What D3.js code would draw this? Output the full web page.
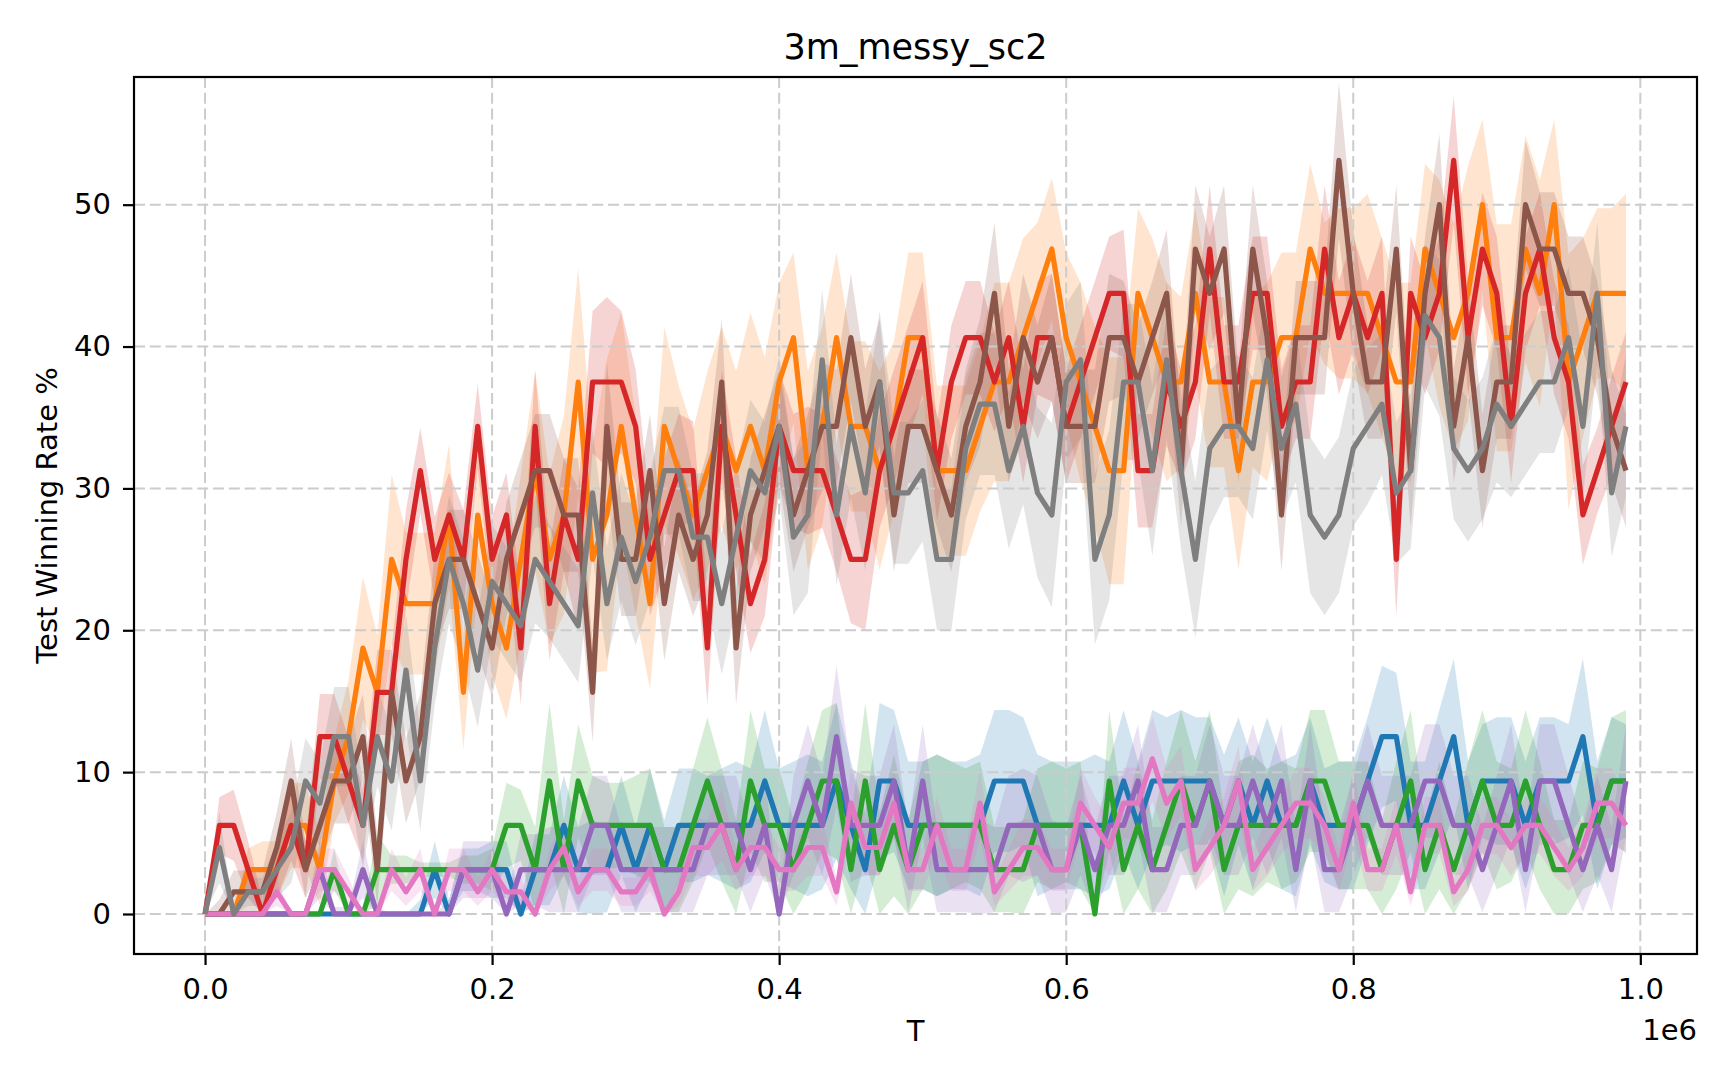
<!DOCTYPE html>
<html>
<head>
<meta charset="utf-8">
<script src="https://cdn.jsdelivr.net/npm/d3@7"></script>
<style>
body { margin: 0; background: #fff; }
text { font-family: "DejaVu Sans", sans-serif; }
</style>
</head>
<body>
<svg id="chart" width="1728" height="1080"></svg>
<script>
// environment steps (T)
var steps = [0,10000,20000,30000,40000,50000,60000,70000,80000,90000,
    100000,110000,120000,130000,140000,150000,160000,170000,180000,190000,
    200000,210000,220000,230000,240000,250000,260000,270000,280000,290000,
    300000,310000,320000,330000,340000,350000,360000,370000,380000,390000,
    400000,410000,420000,430000,440000,450000,460000,470000,480000,490000,
    500000,510000,520000,530000,540000,550000,560000,570000,580000,590000,
    600000,610000,620000,630000,640000,650000,660000,670000,680000,690000,
    700000,710000,720000,730000,740000,750000,760000,770000,780000,790000,
    800000,810000,820000,830000,840000,850000,860000,870000,880000,890000,
    900000,910000,920000,930000,940000,950000,960000,970000,980000,990000];

// mean test win rate per run
var blue = [0,0,0,0,0,0,0,0,0,0, 0,0,0,0,0,0,3.125,0,3.125,3.125,
    3.125,3.125,0,3.125,3.125,6.25,3.125,3.125,3.125,6.25, 3.125,6.25,3.125,6.25,6.25,6.25,6.25,6.25,6.25,9.375,
    6.25,6.25,6.25,6.25,9.375,6.25,3.125,9.375,9.375,6.25, 6.25,6.25,6.25,6.25,6.25,9.375,9.375,9.375,6.25,6.25,
    6.25,6.25,6.25,6.25,9.375,6.25,9.375,9.375,9.375,9.375, 9.375,6.25,9.375,6.25,9.375,6.25,6.25,9.375,6.25,6.25,
    6.25,9.375,12.5,12.5,6.25,6.25,9.375,12.5,6.25,9.375, 9.375,9.375,6.25,9.375,9.375,9.375,12.5,6.25,9.375,9.375];
var orange = [0,0,0,3.125,3.125,3.125,6.25,6.25,3.125,9.375, 12.5,18.75,15.625,25,21.875,21.875,21.875,28.125,15.625,28.125,
    21.875,18.75,25,31.25,25,28.125,37.5,25,28.125,34.375, 28.125,21.875,34.375,31.25,28.125,31.25,34.375,31.25,34.375,31.25,
    37.5,40.625,31.25,34.375,40.625,34.375,34.375,31.25,34.375,40.625, 40.625,31.25,31.25,31.25,34.375,37.5,37.5,40.625,43.75,46.875,
    40.625,37.5,34.375,31.25,31.25,43.75,40.625,37.5,37.5,43.75, 37.5,37.5,31.25,37.5,37.5,40.625,40.625,46.875,43.75,43.75,
    43.75,43.75,40.625,37.5,37.5,46.875,43.75,40.625,43.75,50, 40.625,40.625,46.875,43.75,50,37.5,40.625,43.75,43.75,43.75];
var green = [0,0,0,0,0,0,0,0,0,3.125, 0,0,3.125,3.125,3.125,3.125,3.125,3.125,3.125,3.125,
    3.125,6.25,6.25,3.125,9.375,3.125,9.375,6.25,6.25,6.25, 6.25,6.25,3.125,3.125,6.25,9.375,6.25,3.125,9.375,6.25,
    6.25,3.125,6.25,9.375,9.375,3.125,9.375,3.125,6.25,3.125, 6.25,6.25,6.25,6.25,6.25,3.125,3.125,3.125,6.25,6.25,
    6.25,6.25,0,9.375,3.125,6.25,3.125,6.25,9.375,6.25, 9.375,3.125,6.25,6.25,6.25,6.25,6.25,9.375,9.375,6.25,
    6.25,6.25,3.125,6.25,9.375,3.125,6.25,3.125,6.25,9.375, 6.25,6.25,9.375,6.25,3.125,3.125,6.25,6.25,9.375,9.375];
var red = [0,6.25,6.25,3.125,0,3.125,6.25,3.125,12.5,12.5, 9.375,6.25,15.625,15.625,25,31.25,25,28.125,25,34.375,
    25,28.125,18.75,34.375,21.875,28.125,25,37.5,37.5,37.5, 34.375,25,28.125,31.25,31.25,18.75,34.375,28.125,21.875,25,
    34.375,31.25,31.25,31.25,28.125,25,25,31.25,34.375,37.5, 40.625,31.25,37.5,40.625,40.625,37.5,40.625,34.375,40.625,40.625,
    34.375,37.5,40.625,43.75,43.75,31.25,31.25,37.5,34.375,37.5, 46.875,37.5,37.5,43.75,43.75,34.375,37.5,37.5,46.875,40.625,
    43.75,40.625,43.75,25,43.75,40.625,43.75,53.125,40.625,46.875, 43.75,34.375,43.75,46.875,40.625,37.5,28.125,31.25,34.375,37.5];
var purple = [0,0,0,0,0,0,0,0,3.125,0, 0,3.125,0,0,0,0,0,0,3.125,3.125,
    3.125,0,3.125,3.125,3.125,3.125,3.125,6.25,6.25,3.125, 3.125,3.125,3.125,3.125,3.125,6.25,6.25,6.25,3.125,6.25,
    0,6.25,9.375,6.25,12.5,6.25,6.25,6.25,9.375,3.125, 9.375,3.125,3.125,3.125,3.125,3.125,6.25,6.25,6.25,3.125,
    3.125,6.25,3.125,6.25,6.25,9.375,3.125,3.125,6.25,6.25, 9.375,6.25,6.25,9.375,6.25,9.375,3.125,9.375,3.125,3.125,
    6.25,9.375,6.25,6.25,6.25,9.375,9.375,6.25,6.25,3.125, 6.25,9.375,3.125,9.375,9.375,6.25,3.125,6.25,3.125,9.375];
var brown = [0,0,1.5625,1.5625,1.5625,4.6875,9.375,3.125,6.25,9.375, 9.375,12.5,3.125,15.625,9.375,12.5,21.875,25,25,21.875,
    18.75,25,28.125,31.25,31.25,28.125,28.125,15.625,34.375,25, 25,31.25,21.875,28.125,25,28.125,37.5,18.75,28.125,31.25,
    34.375,28.125,31.25,34.375,34.375,40.625,34.375,37.5,28.125,34.375, 34.375,31.25,28.125,34.375,37.5,43.75,34.375,40.625,37.5,40.625,
    34.375,34.375,34.375,40.625,40.625,37.5,40.625,43.75,31.25,46.875, 43.75,46.875,34.375,46.875,40.625,28.125,40.625,40.625,40.625,53.125,
    43.75,37.5,37.5,46.875,31.25,43.75,50,34.375,40.625,31.25, 37.5,37.5,50,46.875,46.875,43.75,43.75,40.625,34.375,31.25];
var pink = [0,0,0,0,0,1.5625,0,0,3.125,3.125, 1.5625,0,0,3.125,1.5625,3.125,0,3.125,3.125,1.5625,
    3.125,1.5625,1.5625,0,3.125,4.6875,1.5625,3.125,3.125,1.5625, 1.5625,3.125,0,1.5625,4.6875,4.6875,6.25,3.125,4.6875,4.6875,
    3.125,3.125,4.6875,4.6875,1.5625,7.8125,4.6875,4.6875,7.8125,3.125, 3.125,6.25,3.125,3.125,7.8125,1.5625,3.125,4.6875,4.6875,3.125,
    3.125,7.8125,6.25,4.6875,7.8125,7.8125,10.9375,7.8125,9.375,3.125, 4.6875,6.25,9.375,3.125,4.6875,6.25,7.8125,7.8125,6.25,3.125,
    7.8125,3.125,3.125,6.25,1.5625,6.25,6.25,1.5625,3.125,6.25, 6.25,4.6875,6.25,6.25,4.6875,3.125,4.6875,7.8125,7.8125,6.25];
var gray = [0,4.6875,0,1.5625,1.5625,3.125,4.6875,9.375,7.8125,12.5, 12.5,6.25,12.5,9.375,17.1875,9.375,18.75,25,21.875,17.1875,
    23.4375,21.875,20.3125,25,23.4375,21.875,20.3125,29.6875,21.875,26.5625, 23.4375,26.5625,31.25,31.25,26.5625,26.5625,21.875,26.5625,31.25,29.6875,
    34.375,26.5625,28.125,39.0625,28.125,34.375,29.6875,37.5,29.6875,29.6875, 31.25,25,25,32.8125,35.9375,35.9375,31.25,34.375,29.6875,28.125,
    37.5,39.0625,25,28.125,37.5,37.5,31.25,39.0625,31.25,25, 32.8125,34.375,34.375,32.8125,39.0625,32.8125,35.9375,28.125,26.5625,28.125,
    32.8125,34.375,35.9375,29.6875,31.25,42.1875,40.625,32.8125,31.25,32.8125, 35.9375,34.375,35.9375,37.5,37.5,40.625,34.375,43.75,29.6875,34.375];

// half width of the shaded band (std across seeds)
var blueSpread = [0,0,0,0,0,0,0,0,0,0, 0,0,0,0,0,1,2,1,1.5,1.5,
    2,2,1,2.5,2.5,3.5,3,3.5,3,3.5, 3,4,3.5,4,4,3.5,4,4.5,4,5,
    4,4.5,5,4.5,5.5,4.5,4,5.5,5,4.5, 4.5,5,4.5,4.5,5,5,5,4.5,5,4.5,
    4.5,4.5,5,4.5,5,4.5,5,4.5,5,4.5, 4.5,5,4.5,4.5,4.5,4.5,5,4.5,4,4.5,
    4.5,4.5,5,4.5,4.5,4.5,5,5.5,4.5,4, 4.5,4.5,4.5,4.5,4.5,4,5.5,4.5,4.5,4];
var orangeSpread = [0,0,0,1.5,2,2,3,3,2.5,3, 4,5,4,6,5,5,5,5,4,5,
    5,5,6,7,6,7,8,8,11,8, 7,6,7,6,6,7,7,7,8,8,
    7,6,7,7,6,6,6,7,6,6, 6,6,6,6,6,7,7,7,5,5,
    6,7,7,8,8,6,7,7,6,6, 6,6,7,6,7,6,6,6,5,6,
    6,7,7,7,7,6,8,8,9,6, 8,8,8,8,6,9,7,6,6,7];
var greenSpread = [0,0,0,0,0,0,0,0,0,1.5, 0,0.5,2.5,1,1,0.5,0.5,0.5,1,1,
    1.5,3,2.5,3,5.5,3.5,4,3.5,3,3, 3.5,4,3,3,4,4.5,4,3.5,5,4,
    4,3.5,4.5,5,5.5,3.5,5.5,4,5,3.5, 4.5,5,4.5,4,4.5,3,3,3.5,4,4.5,
    4,4.5,0.5,5,3.5,4.5,3.5,4.5,5,4.5, 5,4,4.5,5,4,4.5,4,5,5,4.5,
    4.5,4.5,3.5,4.5,5,3.5,4.5,3.5,4.5,5, 4.5,4,5,4.5,3.5,3.5,4.5,4,4.5,5];
var redSpread = [0,2,2.5,2,1,2,2.5,2,3,3, 3,2.5,3,3,3.5,3,3,3,3.5,3,
    3,3,4,4,4,4,5,5,6,5, 4,4,4,4,3.5,4,4,4,3.5,4,
    4,4,4.5,4,4,4.5,5,4,4,4, 4,3.5,4,4,4,3.5,4,4,4,4.5,
    4,4,4,4,4.5,4,4,4.5,4,4, 4.5,4,4,4,4,4,4,4,4.5,4,
    4,4,4,4,4,4,4,4.5,4,4, 4,4,4,4,4,4,3.5,3,3.5,3.5];
var purpleSpread = [0,0,0,0,0,0,0,0,2,0.5, 0.5,2,0.5,0,0,0,0,1,2,2,
    2,1,2.5,2.5,3,3,3,3.5,3.5,3, 3,3,3,3,3,3.5,3.5,3.5,3,3.5,
    1,3.5,4,3.5,5,4,3.5,3.5,4,3, 4,3,3,3,3.5,3,3.5,4,3.5,3.5,
    3,3.5,3,3.5,3.5,4,3,3,3.5,3.5, 4,3.5,3.5,4,3.5,4,3,4,3,3,
    3.5,4,3.5,3.5,3.5,4,4,3.5,3.5,3, 3.5,4,3,4,4,3.5,3,3.5,3,4];
var brownSpread = [0,1,1.5,1.5,1.5,2.5,3,2,3,3, 3,3,2.5,3,3,3,3.5,3.5,3.5,3.5,
    3.5,4,4,4,4,4,4,3.5,4.5,4, 4,4,4,4,4,4.5,4.5,4,4,4,
    4,4,4,4.5,4,4.5,4,4.5,4,4, 4,4,4,4,4.5,5,4,4.5,4,4.5,
    4,4,4,4.5,4,4,4,4.5,4,4.5, 4,4.5,4,4.5,4,4,4,4,4,5.5,
    4.5,4,4,4.5,4,4,5,4,4,4, 4,4,4.5,4,4,4,4,4,4,4];
var pinkSpread = [0,0,0,0,0,1,0,0,1.5,1.5, 1,0,0,1.5,1,1.5,0,1.5,1.5,1,
    1.5,1,1,0,1.5,2,1,1.5,1.5,1, 1,1.5,0,1,2,2,2.5,1.5,2,2,
    1.5,1.5,2,2,1,2.5,2,2,2.5,1.5, 1.5,2,1.5,1.5,2.5,1,1.5,2,2,1.5,
    1.5,2.5,2,2,2.5,2.5,3,2.5,2.5,1.5, 2,2,2.5,1.5,2,2,2.5,2.5,2,1.5,
    2.5,1.5,1.5,2,1,2,2,1,1.5,2, 2,2,2,2,2,1.5,2,2.5,2.5,2];
var graySpread = [0,2.5,0,1,1,2,2.5,3,3,3.5, 3.5,3,3.5,3.5,4,3.5,4,4.5,4.5,4,
    4,4,4,4.5,4,4,4,4.5,4,4.5, 4.5,4.5,4.5,4.5,4.5,4.5,5,5,5,5,
    5,5.5,5.5,5,5,5,5.5,5,5,5, 5,5,5,5,5,5,5.5,5.5,6,6.5,
    5.5,5.5,6,6,5.5,5.5,6,5.5,5.5,5.5, 5.5,5,5,5,5,5,5.5,5.5,5.5,5.5,
    5.5,5.5,5,5,5.5,5,5.5,5,5,5, 5.5,5,5,5,5,5,5,5,4.5,5];

var xTicks = [0, 200000, 400000, 600000, 800000, 1000000];
var yTicks = [0, 10, 20, 30, 40, 50];

var series = [
    { color: "#1f77b4", values: blue, spread: blueSpread },
    { color: "#ff7f0e", values: orange, spread: orangeSpread },
    { color: "#2ca02c", values: green, spread: greenSpread },
    { color: "#d62728", values: red, spread: redSpread },
    { color: "#9467bd", values: purple, spread: purpleSpread },
    { color: "#8c564b", values: brown, spread: brownSpread },
    { color: "#e377c2", values: pink, spread: pinkSpread },
    { color: "#7f7f7f", values: gray, spread: graySpread }
];

var plot = { left: 134, right: 1697, top: 77, bottom: 954 };

var svg = d3.select("#chart");

var x = d3.scaleLinear().domain([-49500, 1039500]).range([plot.left, plot.right]);
var y = d3.scaleLinear().domain([-2.82, 59.0]).range([plot.bottom, plot.top]);

svg.append("defs").append("clipPath").attr("id", "plotClip")
    .append("rect")
    .attr("x", plot.left)
    .attr("y", plot.top)
    .attr("width", plot.right - plot.left)
    .attr("height", plot.bottom - plot.top);

// shaded bands first, they sit under grid and lines
var bandLayer = svg.append("g").attr("clip-path", "url(#plotClip)");
series.forEach(function(s) {
    var area = d3.area()
        .x(function(d, i) { return x(steps[i]); })
        .y0(function(d, i) { return y(Math.max(0, d - s.spread[i])); })
        .y1(function(d, i) { return y(d + s.spread[i]); });
    bandLayer.append("path")
        .datum(s.values)
        .attr("d", area)
        .attr("fill", s.color)
        .attr("fill-opacity", 0.2)
        .attr("stroke", "none");
});

// dashed grid
var grid = svg.append("g");
grid.selectAll("line.vx")
    .data(xTicks)
    .enter()
    .append("line")
    .attr("x1", function(d) { return x(d); })
    .attr("x2", function(d) { return x(d); })
    .attr("y1", plot.top)
    .attr("y2", plot.bottom)
    .attr("stroke", "#cccccc")
    .attr("stroke-width", 2)
    .attr("stroke-dasharray", "11,4.8");
grid.selectAll("line.hy")
    .data(yTicks)
    .enter()
    .append("line")
    .attr("x1", plot.left)
    .attr("x2", plot.right)
    .attr("y1", function(d) { return y(d); })
    .attr("y2", function(d) { return y(d); })
    .attr("stroke", "#cccccc")
    .attr("stroke-width", 2)
    .attr("stroke-dasharray", "11,4.8");

// mean lines
var lineLayer = svg.append("g").attr("clip-path", "url(#plotClip)");
series.forEach(function(s) {
    var line = d3.line()
        .x(function(d, i) { return x(steps[i]); })
        .y(function(d) { return y(d); });
    lineLayer.append("path")
        .datum(s.values)
        .attr("d", line)
        .attr("fill", "none")
        .attr("stroke", s.color)
        .attr("stroke-width", 5.2)
        .attr("stroke-linejoin", "round");
});

// axes
var xAxis = svg.append("g")
    .attr("transform", "translate(0," + plot.bottom + ")")
    .call(d3.axisBottom(x)
        .tickValues(xTicks)
        .tickFormat(function(d) { return (d / 1e6).toFixed(1); })
        .tickSize(11)
        .tickPadding(13));
var yAxis = svg.append("g")
    .attr("transform", "translate(" + plot.left + ",0)")
    .call(d3.axisLeft(y)
        .tickValues(yTicks)
        .tickFormat(d3.format("d"))
        .tickSize(11)
        .tickPadding(12));

[xAxis, yAxis].forEach(function(g) {
    g.select(".domain").remove();
    g.selectAll(".tick line").attr("stroke", "#000").attr("stroke-width", 2.2);
    g.selectAll(".tick text")
        .attr("fill", "#000")
        .style("font-family", "'DejaVu Sans', sans-serif")
        .style("font-size", "29px");
});

svg.append("rect")
    .attr("x", plot.left)
    .attr("y", plot.top)
    .attr("width", plot.right - plot.left)
    .attr("height", plot.bottom - plot.top)
    .attr("fill", "none")
    .attr("stroke", "#000")
    .attr("stroke-width", 2.2);

// texts
svg.append("text")
    .attr("x", (plot.left + plot.right) / 2)
    .attr("y", 59)
    .attr("text-anchor", "middle")
    .style("font-size", "35px")
    .text("3m_messy_sc2");

svg.append("text")
    .attr("x", (plot.left + plot.right) / 2)
    .attr("y", 1041)
    .attr("text-anchor", "middle")
    .style("font-size", "29px")
    .text("T");

svg.append("text")
    .attr("x", plot.right)
    .attr("y", 1040)
    .attr("text-anchor", "end")
    .style("font-size", "29px")
    .text("1e6");

svg.append("text")
    .attr("transform", "translate(57," + (plot.top + plot.bottom) / 2 + ") rotate(-90)")
    .attr("text-anchor", "middle")
    .style("font-size", "29px")
    .text("Test Winning Rate %");
</script>
</body>
</html>
